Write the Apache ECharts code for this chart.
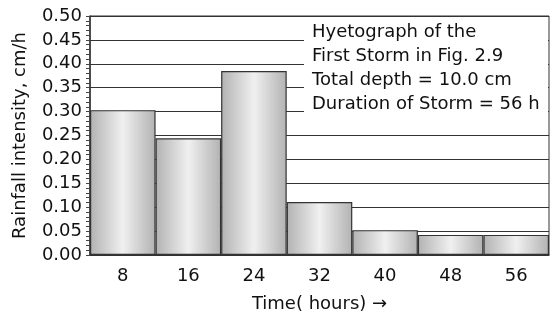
<!DOCTYPE html>
<html lang="en">
<head>
  <meta charset="UTF-8">
  <title>Hyetograph</title>
  <script src="https://cdn.jsdelivr.net/npm/echarts@6/dist/echarts.min.js"></script>
</head>
<body style="margin:0">
  <div id="app" style="width: 550px; height: 318px;"></div>
  <script>
    var hours = ['8', '16', '24', '32', '40', '48', '56']
    var intensity = [0.303, 0.244, 0.385, 0.111, 0.052, 0.042, 0.042]
    var noteLines = ['Hyetograph of the', 'First Storm in Fig. 2.9', 'Total depth = 10.0 cm', 'Duration of Storm = 56 h']

    var font = '"DejaVu Sans", sans-serif'
    var mCharts = echarts.init(document.querySelector('#app'))
    var option = {
      animation: false,
      grid: {
        left: 90, right: 1, top: 16, bottom: 63,
        show: true, borderColor: '#333', borderWidth: 1
      },
      xAxis: {
        type: 'category',
        data: hours,
        name: 'Time( hours) \u2192',
        nameLocation: 'middle',
        nameGap: 40,
        nameTextStyle: { fontSize: 18, color: '#111', fontFamily: font },
        axisLine: { lineStyle: { color: '#333', width: 1.5 } },
        axisTick: { alignWithLabel: true, inside: true, length: 6, lineStyle: { color: '#333' } },
        axisLabel: { fontSize: 18, color: '#111', margin: 12, fontFamily: font }
      },
      yAxis: {
        type: 'value',
        min: 0, max: 0.5, interval: 0.05,
        name: 'Rainfall intensity, cm/h',
        nameLocation: 'middle',
        nameGap: 61,
        nameTextStyle: { fontSize: 18, color: '#111', fontFamily: font },
        axisLine: { show: true, lineStyle: { color: '#333', width: 1.5 } },
        axisTick: { show: true, length: 4, lineStyle: { color: '#444' } },
        minorTick: { show: true, splitNumber: 5, length: 4, lineStyle: { color: '#444' } },
        axisLabel: {
          fontSize: 18, color: '#111', margin: 8, fontFamily: font,
          formatter: function (v) { return v.toFixed(2) }
        },
        splitLine: { lineStyle: { color: '#333', width: 1 } }
      },
      series: [
        {
          type: 'bar',
          data: intensity,
          barCategoryGap: 0,
          itemStyle: {
            borderColor: '#333',
            borderWidth: 1.2,
            color: {
              type: 'linear', x: 0, y: 0, x2: 1, y2: 0,
              colorStops: [
                { offset: 0, color: '#b2b2b2' },
                { offset: 0.5, color: '#f0f0f0' },
                { offset: 1, color: '#b2b2b2' }
              ]
            }
          }
        }
      ],
      graphic: [
        {
          type: 'rect', left: 304, top: 17, z: 10,
          shape: { width: 244, height: 104 },
          style: { fill: '#fff' }
        },
        {
          type: 'text', left: 312, top: 20, z: 11,
          style: {
            text: noteLines.join('\n'),
            fontSize: 18, lineHeight: 24, fill: '#111', fontFamily: font
          }
        }
      ]
    }
    mCharts.setOption(option)
  </script>
</body>
</html>
